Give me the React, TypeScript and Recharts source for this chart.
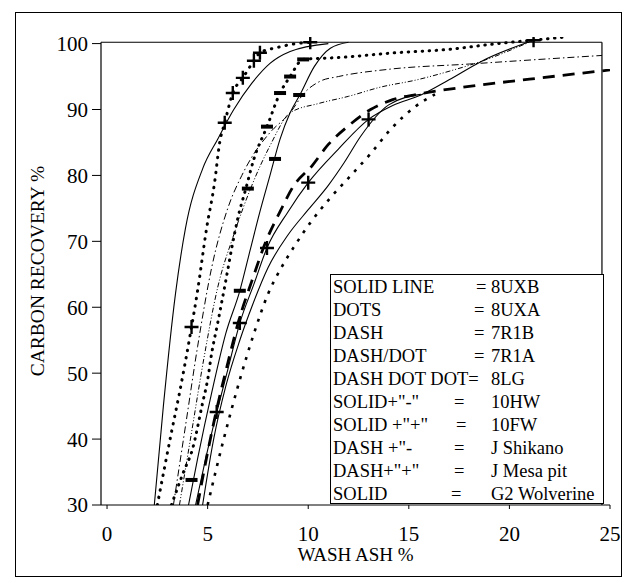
import React from 'react';
import { ComposedChart, Line, Scatter, XAxis, YAxis, ReferenceLine, Label } from 'recharts';

type Pt = [number, number];

// curves as [wash ash %, carbon recovery %]
const uxb8: Pt[] = [[2.35, 30], [2.8, 45], [3.4, 62], [3.9, 72], [4.75, 81], [5.5, 85.5], [6.3, 90], [7.2, 94], [8.1, 97], [9.1, 98.8], [11, 100]];
const uxa8: Pt[] = [[5.0, 30], [5.8, 40], [6.6, 49], [7.3, 56], [8.0, 62], [8.7, 66.2], [9.3, 69.2], [10.1, 72.8], [11.1, 76.6], [12, 79.6], [13.1, 83.3], [14.1, 87], [15.3, 90.4], [16.3, 92.3]];
const r1b7: Pt[] = [[4.5, 30], [5.0, 38], [5.45, 44.5], [6.0, 51.5], [6.55, 58], [7.2, 64], [7.9, 70], [8.6, 74.5], [9.25, 78.3], [10.2, 81.5], [11, 84.7], [11.95, 87.4], [13.1, 90], [14.2, 91.5], [15.4, 92.3], [18, 93.5], [21, 94.6], [25, 96]];
const r1a7: Pt[] = [[3.3, 30], [3.9, 42], [4.5, 54], [5.2, 66], [6.0, 75], [6.7, 80], [7.2, 82.8], [8.1, 86.5], [9.1, 89.5], [9.8, 92.5], [10.6, 94.3], [11.5, 95], [14, 96.1], [18, 96.9], [22, 97.7], [24.6, 98.2]];
const lg8: Pt[] = [[3.6, 30], [4.2, 41], [4.8, 52], [5.5, 63], [6.3, 71], [7.2, 78.5], [8.1, 84.5], [9.1, 89.5], [10.5, 90.9], [12, 92], [13.6, 93.4], [15.4, 94.5], [17, 95.8], [18.6, 97.3], [21.2, 100.5]];
const hw10: Pt[] = [[4.05, 30], [4.5, 37], [5.2, 47], [5.9, 56], [6.6, 62.5], [7.1, 68.5], [7.6, 74.5], [8.1, 80], [8.6, 85.5], [9.1, 89.5], [9.6, 92.3], [10.3, 96.5], [11.1, 99.3], [12, 100.2]];
const fw10: Pt[] = [[4.4, 30], [4.9, 37], [5.45, 44], [6.0, 50.5], [6.6, 57.6], [7.3, 63.5], [7.95, 69], [9, 74.5], [10, 78.9], [11.5, 84], [13, 88.5], [14.2, 90.6], [15.6, 92.2], [17, 94.5], [18.6, 97.3], [21.2, 100.5]];
const shikano: Pt[] = [[3.2, 30], [3.8, 35], [4.25, 38.5], [4.75, 45.5], [5.0, 49], [5.2, 53], [5.5, 57.6], [5.9, 64], [6.2, 69], [6.5, 73.5], [6.9, 78], [7.3, 82.5], [7.95, 87.4], [8.6, 92.5], [9.1, 95], [9.75, 97.6], [11.6, 97.9], [14.3, 98.6], [16.9, 99.1], [19.4, 100], [21.1, 100.5], [22.8, 101]];
const mesaPit: Pt[] = [[2.5, 30], [3.2, 41], [3.6, 47], [4.2, 57], [4.5, 62.5], [4.95, 72], [5.35, 79], [5.6, 85], [5.85, 88], [6.25, 92.5], [6.75, 94.8], [7.3, 97.4], [7.6, 98.6], [8.45, 99.4], [9.2, 99.9], [10.1, 100.2]];
const wolverine: Pt[] = [[4.75, 30], [5.3, 40], [5.9, 48], [6.6, 55], [7.25, 60.5], [8.0, 66], [9.0, 71], [10, 74.8], [11, 78.5], [11.8, 82], [12.6, 85.9], [14, 90.7], [15.6, 92.3]];

// marker points
const hw10Bars: Pt[] = [[4.2, 33.8], [6.6, 62.5], [8.35, 82.5], [9.55, 92.2]];
const shikanoBars: Pt[] = [[7.0, 78], [7.95, 87.4], [8.6, 92.5], [9.1, 95], [9.75, 97.6]];
const fw10Plus: Pt[] = [[5.45, 44.1], [6.6, 57.6], [7.95, 69], [10, 78.9], [13, 88.5], [21.2, 100.5]];
const mesaPlus: Pt[] = [[4.2, 57], [5.85, 88], [6.25, 92.5], [6.75, 94.8], [7.3, 97.4], [7.6, 98.6], [10.1, 100.2]];

const xTicks = [0, 5, 10, 15, 20, 25];
const yTicks = [30, 40, 50, 60, 70, 80, 90, 100];

const legendLabels = ['SOLID LINE', 'DOTS', 'DASH', 'DASH/DOT', 'DASH DOT DOT=', 'SOLID+"-"', 'SOLID +"+"', 'DASH +"-', 'DASH+"+"', 'SOLID'];
const legendValues = ['8UXB', '8UXA', '7R1B', '7R1A', '8LG', '10HW', '10FW', 'J Shikano', 'J Mesa pit', 'G2 Wolverine'];

const serif = "'Liberation Serif', 'DejaVu Serif', 'Noto Serif', 'Times New Roman', Times, serif";
const eqLeft = [143, 141, 141, 141, -1, 121, 123, 121, 121, 118];

const rows = (pts: Pt[]) => pts.map(([x, y]) => ({ x, y }));

const lines = [
  { name: '8UXB', pts: uxb8, w: 1.1, dash: undefined },
  { name: '8UXA', pts: uxa8, w: 2.6, dash: '3 7' },
  { name: '7R1B', pts: r1b7, w: 2.8, dash: '12 8' },
  { name: '7R1A', pts: r1a7, w: 1, dash: '7 3 1.5 3' },
  { name: '8LG', pts: lg8, w: 1, dash: '5 2 1 2 1 2' },
  { name: '10HW', pts: hw10, w: 1.1, dash: undefined },
  { name: '10FW', pts: fw10, w: 1.1, dash: undefined },
  { name: 'J Shikano', pts: shikano, w: 3, dash: '0.5 6.5' },
  { name: 'J Mesa pit', pts: mesaPit, w: 3, dash: '0.5 7' },
  { name: 'G2 Wolverine', pts: wolverine, w: 1.1, dash: undefined },
];

const Plus = (p: any) => (
  <path d={`M${p.cx - 7},${p.cy}H${p.cx + 7}M${p.cx},${p.cy - 7}V${p.cy + 7}`} stroke="#000" strokeWidth={2.4} fill="none" />
);
const Bar = (p: any) => <rect x={p.cx - 6} y={p.cy - 2} width={12} height={4} fill="#000" />;

const tickStyle = { fill: '#000', fontSize: 21, fontFamily: serif };

export default function App() {
  return (
    <div style={{ position: 'absolute', left: 0, top: 0, width: 629, height: 583, background: '#fff', fontFamily: serif }}>
      <div style={{ position: 'absolute', left: 15, top: 12, width: 605, height: 563, border: '1px solid #000' }} />
      <div style={{ position: 'absolute', left: 0, top: 0 }}>
        <ComposedChart width={629} height={583} margin={{ top: 37, right: 19, bottom: 0, left: 0 }} style={{ fontFamily: serif }}>
          <XAxis
            type="number"
            dataKey="x"
            domain={[-0.3, 25]}
            ticks={xTicks}
            allowDataOverflow
            height={78}
            tickSize={4}
            tickMargin={17}
            tick={tickStyle}
            stroke="#000"
          >
            <Label value="WASH ASH %" position="insideBottom" offset={22} style={{ fill: '#000', fontSize: 19, fontFamily: serif }} />
          </XAxis>
          <YAxis
            type="number"
            dataKey="y"
            domain={[30, 101]}
            ticks={yTicks}
            allowDataOverflow
            width={101}
            tickSize={9}
            tickMargin={4}
            axisLine={false}
            tick={tickStyle}
            stroke="#000"
          >
            <Label
              value="CARBON RECOVERY %"
              angle={-90}
              position="insideLeft"
              offset={37}
              style={{ fill: '#000', fontSize: 19.5, fontFamily: serif, textAnchor: 'middle' }}
            />
          </YAxis>
          <ReferenceLine segment={[{ x: -0.3, y: 30 }, { x: -0.3, y: 100.2 }]} stroke="#000" strokeWidth={1.2} />
          <ReferenceLine segment={[{ x: -0.3, y: 100.2 }, { x: 24.6, y: 100.2 }]} stroke="#000" strokeWidth={1.2} />
          <ReferenceLine segment={[{ x: 24.6, y: 100.2 }, { x: 24.6, y: 30 }]} stroke="#000" strokeWidth={1.2} />
          {lines.map((s) => (
            <Line
              key={s.name}
              name={s.name}
              data={rows(s.pts)}
              dataKey="y"
              type="monotone"
              stroke="#000"
              strokeWidth={s.w}
              strokeDasharray={s.dash}
              strokeLinecap={s.dash && s.dash.startsWith('0.5') ? 'round' : 'butt'}
              dot={false}
              activeDot={false}
              isAnimationActive={false}
            />
          ))}
          <Scatter name="10HW marks" data={rows(hw10Bars)} dataKey="y" shape={Bar} isAnimationActive={false} />
          <Scatter name="J Shikano marks" data={rows(shikanoBars)} dataKey="y" shape={Bar} isAnimationActive={false} />
          <Scatter name="10FW marks" data={rows(fw10Plus)} dataKey="y" shape={Plus} isAnimationActive={false} />
          <Scatter name="J Mesa pit marks" data={rows(mesaPlus)} dataKey="y" shape={Plus} isAnimationActive={false} />
        </ComposedChart>
      </div>
      <div
        style={{
          position: 'absolute',
          left: 330,
          top: 274,
          width: 272,
          height: 228,
          border: '1.5px solid #000',
          background: '#fff',
          fontFamily: serif,
          fontSize: 18.5,
          color: '#000',
        }}
      >
        {legendLabels.map((lab, i) => (
          <div key={lab} style={{ position: 'absolute', left: 2, top: 1 + i * 23, height: 23, lineHeight: '23px', whiteSpace: 'nowrap', width: 268 }}>
            <span>{lab}</span>
            {eqLeft[i] >= 0 && <span style={{ position: 'absolute', left: eqLeft[i] }}>=</span>}
            <span style={{ position: 'absolute', left: 158 }}>{legendValues[i]}</span>
          </div>
        ))}
      </div>
    </div>
  );
}
